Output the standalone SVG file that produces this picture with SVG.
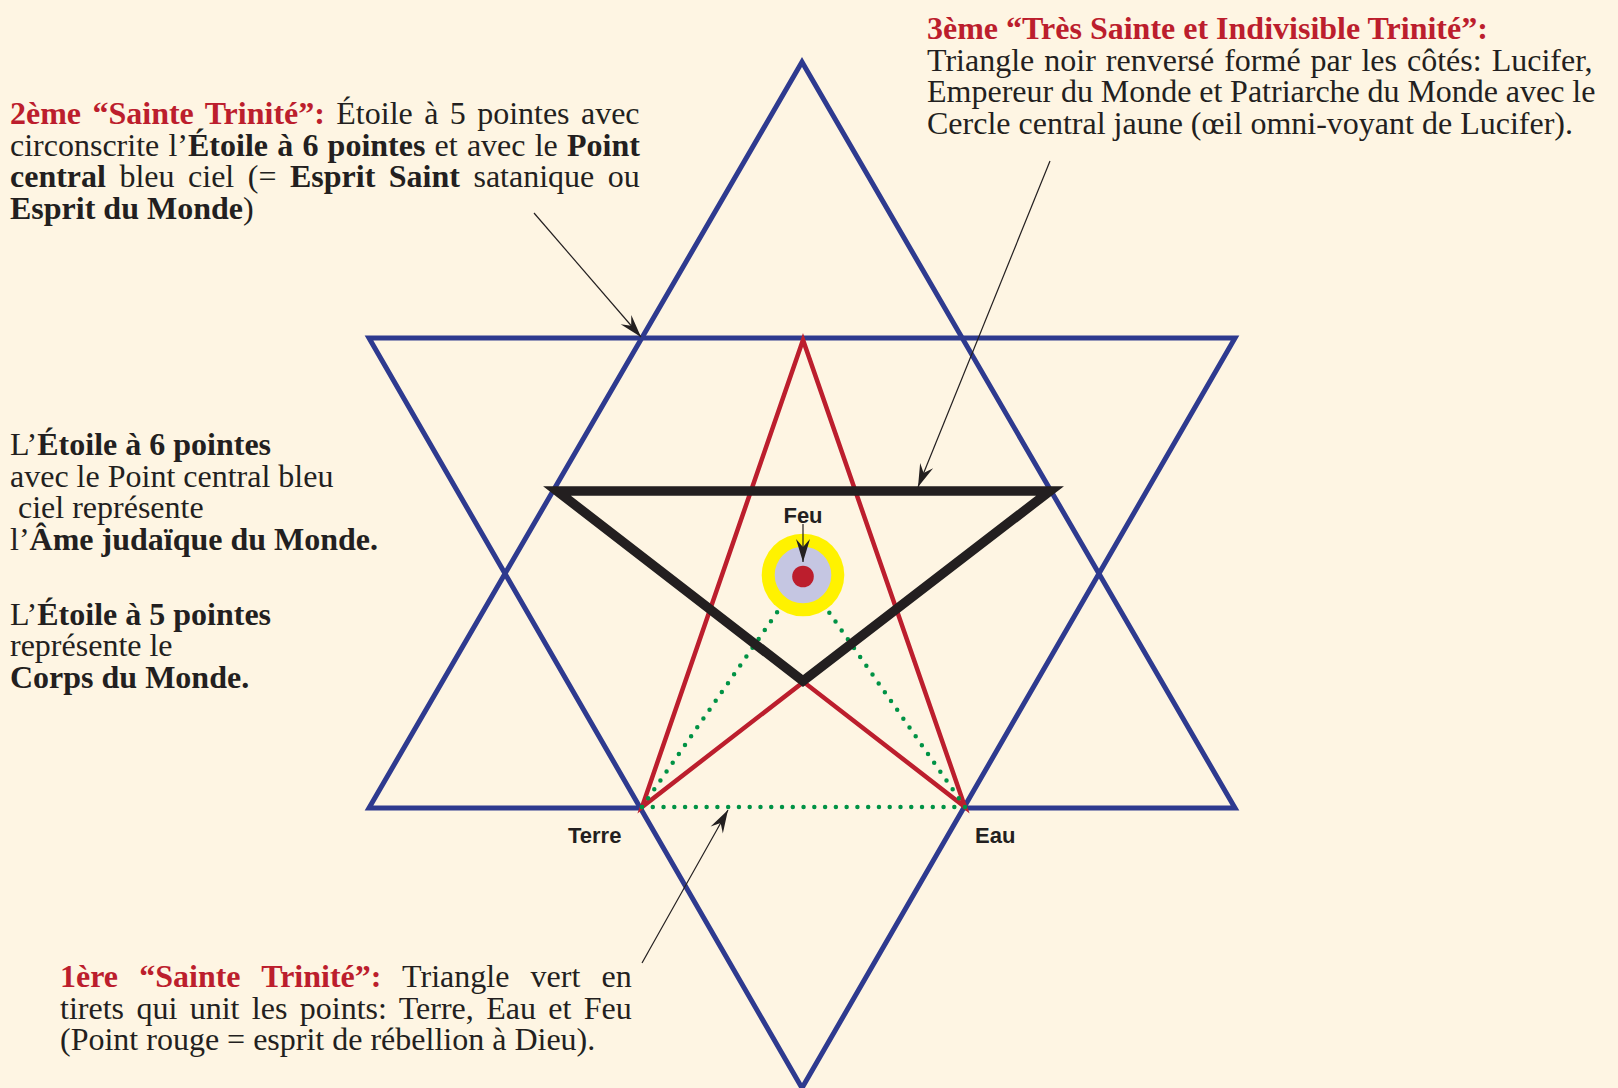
<svg xmlns="http://www.w3.org/2000/svg" width="1618" height="1088" viewBox="0 0 1618 1088">
<style>
.t{font-family:"Liberation Serif","Times New Roman",serif;font-size:32px;fill:#231f20}
.b{font-weight:bold}
.r{fill:#bc1e2d;font-weight:bold}
.lbl{font-family:"Liberation Sans",Arial,sans-serif;font-size:22px;font-weight:bold;fill:#231f20}
.blue{fill:none;stroke:#2e3a8f;stroke-width:5;stroke-linejoin:miter}
.red{fill:none;stroke:#bc1e2d;stroke-width:4.5;stroke-linejoin:miter}
.green{fill:none;stroke:#009245;stroke-width:4.5;stroke-linecap:round;stroke-dasharray:0 10.77}
.black{fill:none;stroke:#231f20;stroke-width:9.5;stroke-linejoin:miter;stroke-miterlimit:10}
.conn{stroke:#231f20;stroke-width:1.2;fill:none;marker-end:url(#ah)}
</style>
<defs>
<marker id="ah" viewBox="-24 -9 26 18" markerWidth="26" markerHeight="18" refX="0" refY="0" orient="auto" markerUnits="userSpaceOnUse">
<path d="M0,0 L-23,-7 L-15,0 L-23,7 Z" fill="#231f20"/>
</marker>
</defs>
<rect width="1618" height="1088" fill="#fef5e3"/>

<g id="star6">
<polyline class="blue" points="642,808 369,808 802,62 1235,808 965,808"/>
<polygon class="blue" points="369,338 1235,338 802,1088"/>
</g>

<g id="pentagram">
<polygon class="red" points="803,340 642,807 1050,491 557,491 965,807"/>
</g>

<g id="triangle-vert">
<line class="green" x1="642" y1="807" x2="965" y2="807"/>
<line class="green" x1="642" y1="807" x2="803" y2="575"/>
<line class="green" x1="965" y1="807" x2="803" y2="575"/>
</g>

<g id="triangle-noir">
<polygon class="black" points="557,491 1050,491 803,681"/>
</g>

<g id="cercle-central">
<circle cx="803" cy="575" r="41.3" fill="#fff200"/>
<circle cx="803" cy="575" r="28.3" fill="#c5c6e2"/>
<circle cx="803" cy="576.5" r="10.8" fill="#bc1e2d"/>
</g>

<g id="label-feu"><text class="lbl" x="803" y="523" text-anchor="middle">Feu</text></g>
<g id="label-terre"><text class="lbl" x="568" y="843">Terre</text></g>
<g id="label-eau"><text class="lbl" x="975" y="843">Eau</text></g>

<g id="connectors">
<line class="conn" x1="534" y1="213" x2="641" y2="337"/>
<line class="conn" x1="1050" y1="161" x2="918" y2="487"/>
<line class="conn" x1="642" y1="963" x2="728" y2="810"/>
<line class="conn" x1="803" y1="524" x2="803" y2="562"/>
</g>

<g id="texte-2eme">
<text class="t" x="10" y="124" word-spacing="3.4"><tspan class="r">2ème “Sainte Trinité”:</tspan> Étoile à 5 pointes avec</text>
<text class="t" x="10" y="155.5" word-spacing="1.2">circonscrite l’<tspan class="b">Étoile à 6 pointes</tspan> et avec le <tspan class="b">Point</tspan></text>
<text class="t" x="10" y="187" word-spacing="5.5"><tspan class="b">central</tspan> bleu ciel (= <tspan class="b">Esprit Saint</tspan> satanique ou</text>
<text class="t" x="10" y="219"><tspan class="b">Esprit du Monde</tspan>)</text>
</g>

<g id="texte-3eme">
<text class="t" x="927" y="39"><tspan class="r">3ème “Très Sainte et Indivisible Trinité”:</tspan></text>
<text class="t" x="927" y="70.5" word-spacing="2">Triangle noir renversé formé par les côtés: Lucifer,</text>
<text class="t" x="927" y="102" word-spacing="-0.2">Empereur du Monde et Patriarche du Monde avec le</text>
<text class="t" x="927" y="133.5">Cercle central jaune (œil omni-voyant de Lucifer).</text>
</g>

<g id="texte-etoiles">
<text class="t" x="10" y="455">L’<tspan class="b">Étoile à 6 pointes</tspan></text>
<text class="t" x="10" y="486.5">avec le Point central bleu</text>
<text class="t" x="18" y="518">ciel représente</text>
<text class="t" x="10" y="549.5">l’<tspan class="b">Âme judaïque du Monde.</tspan></text>
<text class="t" x="10" y="624.5">L’<tspan class="b">Étoile à 5 pointes</tspan></text>
<text class="t" x="10" y="656">représente le</text>
<text class="t" x="10" y="687.5"><tspan class="b">Corps du Monde.</tspan></text>
</g>

<g id="texte-1ere">
<text class="t" x="60" y="987" word-spacing="13.2"><tspan class="r">1ère “Sainte Trinité”:</tspan> Triangle vert en</text>
<text class="t" x="60" y="1018.5" word-spacing="4.4">tirets qui unit les points: Terre, Eau et Feu</text>
<text class="t" x="60" y="1050">(Point rouge = esprit de rébellion à Dieu).</text>
</g>
</svg>
